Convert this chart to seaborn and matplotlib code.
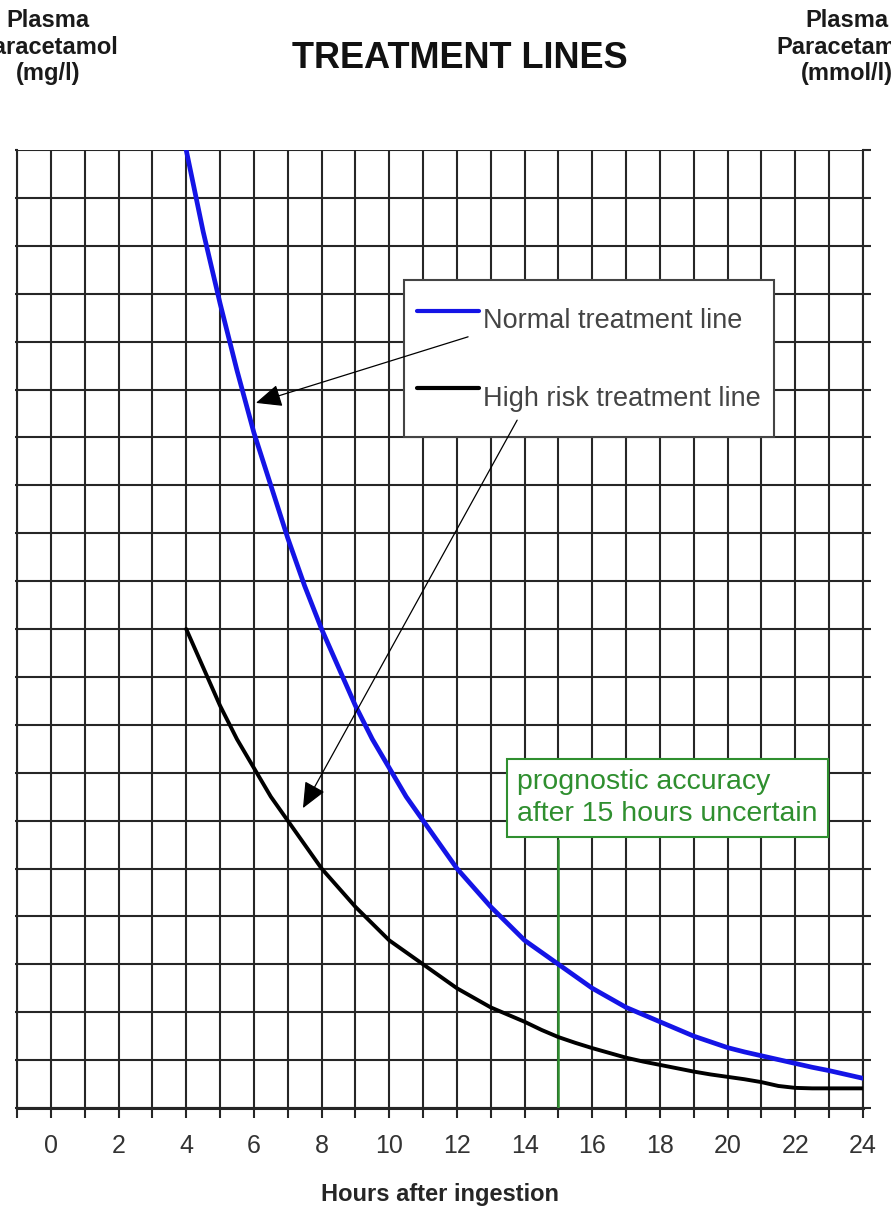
import matplotlib.pyplot as plt
import pandas as pd
import seaborn as sns

# Data (half-hour readings)
HOURS = [4 + 0.5 * i for i in range(41)]
NORMAL_LINE = [200, 183, 168, 154, 141, 130, 119, 109, 100, 92, 84, 77, 71, 65, 60, 55, 50, 46, 42, 38.5,
               35, 32.5, 30, 27.5, 25, 23, 21, 19.5, 18, 16.5, 15, 13.8, 12.6, 11.7, 10.9, 10.1, 9.3, 8.5,
               7.8, 7.0, 6.2]
HIGH_RISK_LINE = [100, 92, 84, 77, 71, 65, 60, 55, 50, 46, 42, 38.5, 35, 32.5, 30, 27.5, 25, 23, 21, 19.5,
                  18, 16.3, 14.8, 13.6, 12.5, 11.5, 10.5, 9.7, 9, 8.3, 7.6, 7.0, 6.5, 6.0, 5.4, 4.6, 4.2,
                  4.1, 4.1, 4.1, 4.1]
X_TICKS = list(range(-1, 25))
X_TICK_LABELS = [str(h) if h >= 0 and h % 2 == 0 else "" for h in X_TICKS]
Y_TICKS = list(range(0, 201, 10))
CUTOFF_HOUR = 15

# Output
PATH_PLOT = "out.png"

BLUE = "#1414e6"
GREEN = "#2f8f2f"
GRID = "#262626"


def main():
    df = pd.DataFrame({
        "hours": HOURS * 2,
        "level": NORMAL_LINE + HIGH_RISK_LINE,
        "line": ["Normal treatment line"] * len(HOURS) + ["High risk treatment line"] * len(HOURS),
    })

    sns.set_style("white")
    plt.rcParams["font.family"] = ["Liberation Sans", "DejaVu Sans"]

    fig, ax = plt.subplots(figsize=(8.91, 12.15), dpi=100)
    fig.subplots_adjust(left=17 / 891, right=863 / 891, top=1 - 150 / 1215, bottom=1 - 1108 / 1215)

    sns.lineplot(data=df, x="hours", y="level", hue="line",
                 palette={"Normal treatment line": BLUE, "High risk treatment line": "black"},
                 linewidth=2.8, ax=ax, zorder=5)
    for line in ax.get_lines():
        if line.get_color() == BLUE:
            line.set_linewidth(3.4)

    ax.set_xlim(-1, 24)
    ax.set_ylim(0, 200)
    ax.set_xticks(X_TICKS)
    ax.set_xticklabels(X_TICK_LABELS)
    ax.set_yticks(Y_TICKS)
    ax.set_yticklabels([])
    ax.grid(True, color=GRID, linewidth=1.5)
    ax.set_axisbelow(True)
    ax.tick_params(axis="x", direction="out", length=7, width=1.5, color=GRID, pad=12,
                   labelsize=18, labelcolor="#333333", bottom=True)
    ax.tick_params(axis="y", which="major", direction="out", width=1.5, color=GRID, left=True, right=True)
    ax.yaxis.set_tick_params(which="major", length=1.5)
    for tick in ax.yaxis.get_major_ticks():
        tick.tick2line.set_markersize(6)
    for spine in ax.spines.values():
        spine.set_color(GRID)
        spine.set_linewidth(1.5)
    ax.spines["bottom"].set_linewidth(2.2)
    ax.spines["top"].set_visible(False)
    ax.set_xlabel("Hours after ingestion", fontsize=17, fontweight="bold", labelpad=18)
    ax.set_ylabel("")

    # legend
    leg = ax.legend(loc="upper left", bbox_to_anchor=(0.457, 0.864), borderaxespad=0,
                    fontsize=19.5, frameon=True, fancybox=False, framealpha=1, edgecolor="#444444",
                    handlelength=2.3, handleheight=2.6, handletextpad=0.12, labelspacing=0.92,
                    borderpad=0.5)
    leg.get_frame().set_linewidth(1.5)
    for txt in leg.get_texts():
        txt.set_color("#444444")
    for h in leg.legend_handles:
        h.set_linewidth(3)
    leg.set_zorder(6)

    # arrows from legend to curves
    arrow = dict(arrowstyle="-|>,head_length=0.8,head_width=0.35", color="black", lw=0.9,
                 mutation_scale=20, shrinkA=0, shrinkB=0)
    ax.annotate("", xy=(6.06, 147.2), xytext=(12.33, 161.0), arrowprops=arrow, zorder=7)
    ax.annotate("", xy=(7.45, 62.6), xytext=(13.78, 143.6), arrowprops=arrow, zorder=7)

    # 15 hour cut-off note
    ax.plot([CUTOFF_HOUR, CUTOFF_HOUR], [0, 56], color=GREEN, linewidth=1.8, zorder=4)
    ax.text(13.78, 64.7, "prognostic accuracy\nafter 15 hours uncertain", ha="left", va="center",
            fontsize=20.5, color=GREEN, linespacing=1.3, zorder=7,
            bbox=dict(boxstyle="square,pad=0.35", fc="white", ec=GREEN, lw=1.5))

    # titles
    fig.text(460 / 891, 1 - 58 / 1215, "TREATMENT LINES", ha="center", va="center",
             fontsize=26, fontweight="bold", color="#111111")
    fig.text(48 / 891, 1 - 9 / 1215, "Plasma\nParacetamol\n(mg/l)", ha="center", va="top",
             fontsize=17, fontweight="bold", color="#1a1a1a", linespacing=1.2)
    fig.text(847 / 891, 1 - 9 / 1215, "Plasma\nParacetamol\n(mmol/l)", ha="center", va="top",
             fontsize=17, fontweight="bold", color="#1a1a1a", linespacing=1.2)

    fig.savefig(PATH_PLOT, dpi=100)


if __name__ == '__main__':
    main()
